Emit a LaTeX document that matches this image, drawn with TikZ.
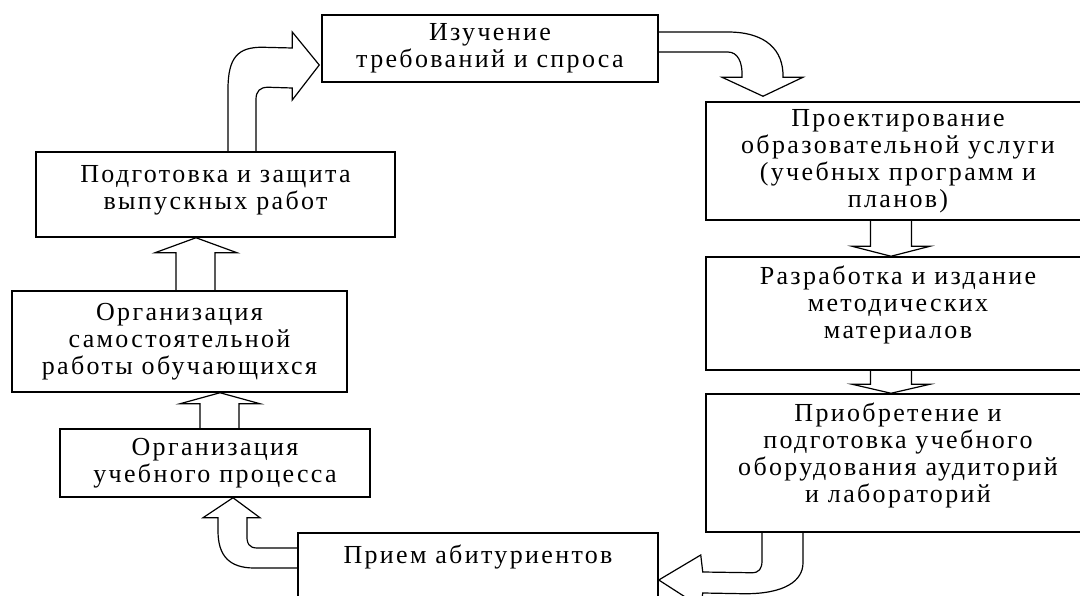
\documentclass[tikz,border=0pt]{standalone}
\usepackage{fontspec}
\setmainfont{Liberation Serif}[LetterSpace=9]
\usepackage{tikz}
\usetikzlibrary{calc}

\tikzset{
  stage/.style={rectangle,draw,line width=1.5pt,align=center,inner sep=0pt,font=\fontsize{26}{27}\selectfont},
  blockline/.style={line width=1.2pt,line join=miter}
}

\begin{document}
\begin{tikzpicture}[x=1pt,y=-1pt]
\useasboundingbox (0,0) rectangle (1080,596);

\node (izuch)[stage,minimum width=336pt,minimum height=67pt] at (490,48.5) {Изучение\\требований и спроса};
\node (proekt)[stage,minimum width=384pt,minimum height=118pt] at (898,161) {Проектирование\\образовательной услуги\\(учебных программ и\\планов)};
\node (razrab)[stage,minimum width=384pt,minimum height=113pt,text depth=22pt] at (898,313.5) {Разработка и издание\\методических\\материалов};
\node (priobr)[stage,minimum width=384pt,minimum height=138pt,text depth=20pt] at (898,463) {Приобретение и\\подготовка учебного\\оборудования аудиторий\\и лабораторий};
\node (priem)[stage,minimum width=360pt,minimum height=70pt,text depth=28pt] at (478,568) {Прием абитуриентов};
\node (orguch)[stage,minimum width=310pt,minimum height=68pt] at (215,463) {Организация\\учебного процесса};
\node (orgsam)[stage,minimum width=335pt,minimum height=101pt] at (179.5,341.5) {Организация\\самостоятельной\\работы обучающихся};
\node (podg)[stage,minimum width=359pt,minimum height=85pt,text depth=14pt] at (215.5,194.5) {Подготовка и защита\\выпускных работ};

% straight block arrows
\draw[blockline] ([xshift=-27.5pt]proekt.south) -- ([xshift=-27.5pt,yshift=10pt]razrab.north) -- ([xshift=-46pt,yshift=10pt]razrab.north) -- ([xshift=-7pt]razrab.north) -- ([xshift=32pt,yshift=10pt]razrab.north) -- ([xshift=13.5pt,yshift=10pt]razrab.north) -- ([xshift=13.5pt]proekt.south);
\draw[blockline] ([xshift=-27.5pt]razrab.south) -- ([xshift=-27.5pt,yshift=9pt]priobr.north) -- ([xshift=-46pt,yshift=9pt]priobr.north) -- ([xshift=-7pt]priobr.north) -- ([xshift=32pt,yshift=9pt]priobr.north) -- ([xshift=13.5pt,yshift=9pt]priobr.north) -- ([xshift=13.5pt]razrab.south);
\draw[blockline] ([xshift=-15pt]orguch.north) -- ([xshift=20.5pt,yshift=-11pt]orgsam.south) -- ([xshift=0.5pt,yshift=-11pt]orgsam.south) -- ([xshift=40.5pt]orgsam.south) -- ([xshift=80.5pt,yshift=-11pt]orgsam.south) -- ([xshift=59.5pt,yshift=-11pt]orgsam.south) -- ([xshift=24pt]orguch.north);
\draw[blockline] ([xshift=-3.5pt]orgsam.north) -- ([xshift=-39.5pt,yshift=-15pt]podg.south) -- ([xshift=-60.5pt,yshift=-15pt]podg.south) -- ([xshift=-19.5pt]podg.south) -- ([xshift=21.5pt,yshift=-15pt]podg.south) -- ([xshift=-0.5pt,yshift=-15pt]podg.south) -- ([xshift=35.5pt]orgsam.north);

% curved block arrows
\draw[blockline] ($(podg.north)+(12.5,0)$) -- ($(podg.north)+(12.5,-62)$) .. controls ($(podg.north)+(12.5,-94)$) and ($(podg.north)+(22.5,-104)$) .. ($(podg.north)+(46.5,-104)$) -- ($(izuch.west)+(-29,-0.5)$) -- ($(izuch.west)+(-29,-16.5)$) -- ($(izuch.west)+(-2,16.5)$) -- ($(izuch.west)+(-29,51.5)$) -- ($(izuch.west)+(-29,39.5)$) -- ($(podg.north)+(52.5,-64)$) .. controls ($(podg.north)+(44.5,-64)$) and ($(podg.north)+(40.5,-60)$) .. ($(podg.north)+(40.5,-52)$) -- ($(podg.north)+(40.5,0)$);
\draw[blockline] ($(izuch.east)+(0,-16.5)$) -- ($(izuch.east)+(69,-16.5)$) .. controls ($(izuch.east)+(107,-16.5)$) and ($(izuch.east)+(125,1.5)$) .. ($(proekt.north)+(-115,-24)$) -- ($(proekt.north)+(-95,-24)$) -- ($(proekt.north)+(-135,-5)$) -- ($(proekt.north)+(-176,-24)$) -- ($(proekt.north)+(-156,-24)$) .. controls ($(izuch.east)+(84,13.5)$) and ($(izuch.east)+(79,3.5)$) .. ($(izuch.east)+(69,3.5)$) -- ($(izuch.east)+(0,3.5)$);
\draw[blockline] ($(priobr.south)+(-136,0)$) -- ($(priobr.south)+(-136,28)$) .. controls ($(priobr.south)+(-136,36)$) and ($(priobr.south)+(-139,40)$) .. ($(priobr.south)+(-146,40)$) -- ($(priem.east)+(44,4)$) -- ($(priem.east)+(42,-13)$) -- ($(priem.east)+(0,12)$) -- ($(priem.east)+(42,39)$) -- ($(priem.east)+(44,25)$) -- ($(priobr.south)+(-153,61)$) .. controls ($(priobr.south)+(-113,61)$) and ($(priobr.south)+(-95,48)$) .. ($(priobr.south)+(-95,30)$) -- ($(priobr.south)+(-95,0)$);
\draw[blockline] ($(priem.west)+(0,-20)$) -- ($(priem.west)+(-40,-20)$) .. controls ($(priem.west)+(-48,-20)$) and ($(priem.west)+(-51,-24)$) .. ($(orguch.south)+(32,35)$) -- ($(orguch.south)+(32,20)$) -- ($(orguch.south)+(45,20)$) -- ($(orguch.south)+(18,0)$) -- ($(orguch.south)+(-12,20)$) -- ($(orguch.south)+(3,20)$) -- ($(orguch.south)+(3,33)$) .. controls ($(orguch.south)+(3,58)$) and ($(priem.west)+(-68,0)$) .. ($(priem.west)+(-43,0)$) -- (priem.west);
\end{tikzpicture}
\end{document}
